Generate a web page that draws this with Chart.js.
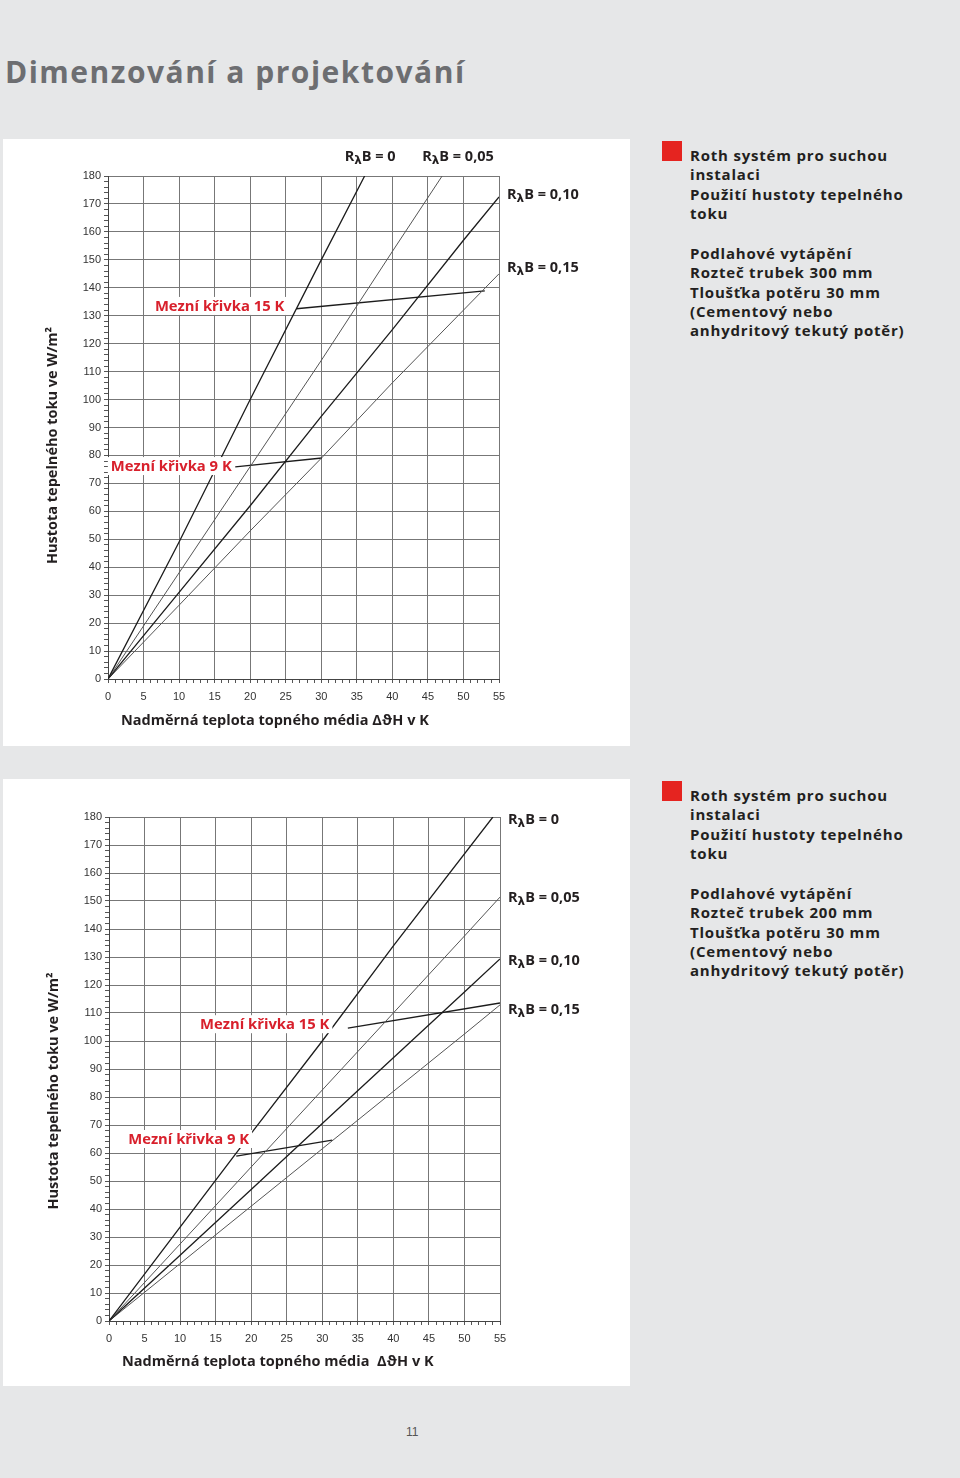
<!DOCTYPE html>
<html lang="cs">
<head>
<meta charset="utf-8">
<title>Dimenzování a projektování</title>
<script src="https://cdn.jsdelivr.net/npm/chart.js@4/dist/chart.umd.min.js"></script>
<style>
  body { margin: 0; width: 960px; height: 1478px; background: #e6e7e8; position: relative; overflow: hidden; font-family: "Open Sans", sans-serif; }
  h1 { position: absolute; left: 5px; top: 57px; margin: 0; font-size: 30px; line-height: 30px; font-weight: 700; color: #6d6e71; letter-spacing: 1.5px; }
  .panel { position: absolute; left: 3px; width: 627px; height: 607px; background: #fff; }
  .panel canvas { display: block; }
  .note { position: absolute; left: 690px; font-size: 15px; line-height: 19.3px; font-weight: 700; color: #231f20; white-space: nowrap; letter-spacing: 0.8px; }
  .note .gap { margin-top: 21px; }
  .square { position: absolute; left: 662px; width: 20px; height: 20px; background: #e52420; }
  .page { position: absolute; left: 406px; top: 1425px; font-size: 12px; color: #555; font-family: "Liberation Sans", Arial, sans-serif; }
</style>
</head>
<body>
<h1>Dimenzování a projektování</h1>

<div class="panel" style="top:139px"><canvas id="chartTop" width="627" height="607"></canvas></div>
<div class="square" style="top:141px"></div>
<div class="note" style="top:146px">
  <div>Roth systém pro suchou<br>instalaci<br>Použití hustoty tepelného<br>toku</div>
  <div class="gap">Podlahové vytápění<br>Rozteč trubek 300 mm<br>Tloušťka potěru 30 mm<br>(Cementový nebo<br>anhydritový tekutý potěr)</div>
</div>

<div class="panel" style="top:779px"><canvas id="chartBottom" width="627" height="607"></canvas></div>
<div class="square" style="top:781px"></div>
<div class="note" style="top:786px">
  <div>Roth systém pro suchou<br>instalaci<br>Použití hustoty tepelného<br>toku</div>
  <div class="gap">Podlahové vytápění<br>Rozteč trubek 200 mm<br>Tloušťka potěru 30 mm<br>(Cementový nebo<br>anhydritový tekutý potěr)</div>
</div>

<div class="page">11</div>

<script>
// values: x = ΔϑH in K, y = q in W/m²
const rbTags = ['0', '0,05', '0,10', '0,15'];

// pipe spacing 300 mm
const tempTopR0 = [0, 10, 20, 30, 36.1];
const fluxTopR0 = [0, 49, 100, 150, 180];
const tempTopR05 = [0, 10, 20, 30, 40, 47];
const fluxTopR05 = [0, 38, 76, 114, 153, 180];
const tempTopR10 = [0, 10, 20, 30, 40, 50, 55];
const fluxTopR10 = [0, 31, 62, 94, 125, 157, 172.5];
const tempTopR15 = [0, 10, 20, 30, 40, 50, 55];
const fluxTopR15 = [0, 26.4, 53, 79, 106, 132, 145];
const tempTopK15 = [26.5, 53];
const fluxTopK15 = [132.5, 138.9];
const tempTopK9 = [17.9, 30.1];
const fluxTopK9 = [75.9, 79.1];

// pipe spacing 200 mm
const tempBotR0 = [0, 10, 20, 30, 40, 54];
const fluxBotR0 = [0, 33.5, 67, 100, 134, 180];
const tempBotR05 = [0, 10, 20, 30, 40, 50, 55];
const fluxBotR05 = [0, 27.5, 55, 82.5, 110, 137.5, 151.4];
const tempBotR10 = [0, 10, 20, 30, 40, 50, 55];
const fluxBotR10 = [0, 23.5, 47, 70.5, 94, 117.5, 129.3];
const tempBotR15 = [0, 10, 20, 30, 40, 50, 55];
const fluxBotR15 = [0, 20.5, 41, 61.5, 82, 102.5, 112.9];
const tempBotK15 = [33.6, 55];
const fluxBotK15 = [104.6, 113.6];
const tempBotK9 = [17.9, 31.4];
const fluxBotK9 = [58.9, 64.6];

const pts = (xs, ys) => xs.map((v, i) => ({ x: v, y: ys[i] }));

const GRID = '#777';
const DARK = '#1c1c1c';
const LIGHT = '#555';
const TEXT = '#231f20';
const RED = '#d8202c';
const BOLD = '"Open Sans", "DejaVu Sans", sans-serif';

function line(xs, ys, color, width, tag, tagAt, tagDy) {
  return {
    data: pts(xs, ys), showLine: true, pointRadius: 0, borderColor: color,
    borderWidth: width, tension: 0, tag: tag, tagAt: tagAt, tagDy: tagDy || 0
  };
}

const overlay = {
  id: 'overlay',
  afterDatasetsDraw(chart, args, o) {
    const { ctx, chartArea: a } = chart;
    const x = chart.scales.x, y = chart.scales.y;
    ctx.save();
    ctx.textBaseline = 'middle';
    ctx.textAlign = 'left';

    // red labels of the limit curves, on a white patch
    ctx.font = 'bold 14.8px ' + BOLD;
    o.notes.forEach(n => {
      const px = x.getPixelForValue(n.x), py = y.getPixelForValue(n.y);
      const w = ctx.measureText(n.text).width;
      ctx.fillStyle = '#fff';
      ctx.fillRect(px - 3, py - 9, w + 6, 18);
      ctx.fillStyle = RED;
      ctx.fillText(n.text, px, py + 1);
    });

    // RλB tags at the line ends
    chart.data.datasets.forEach(ds => {
      if (!ds.tag) return;
      const end = ds.data[ds.data.length - 1];
      let px, py;
      if (ds.tagAt === 'top') {
        px = x.getPixelForValue(end.x) - 20;
        py = a.top - 19;
      } else {
        px = a.right + 8;
        py = y.getPixelForValue(end.y) + ds.tagDy;
      }
      ctx.fillStyle = TEXT;
      ctx.font = 'bold 14.5px ' + BOLD;
      ctx.fillText('R', px, py);
      px += ctx.measureText('R').width;
      ctx.font = 'bold 12px "DejaVu Sans", sans-serif';
      ctx.fillText('λ', px, py + 4);
      px += ctx.measureText('λ').width;
      ctx.font = 'bold 14.5px ' + BOLD;
      ctx.fillText('B = ' + ds.tag, px, py);
    });

    // axis titles
    ctx.fillStyle = TEXT;
    ctx.font = 'bold 14.5px ' + BOLD;
    ctx.fillText(o.xTitle, a.left + 13, a.bottom + o.xTitleDy);
    ctx.translate(a.left - 55, (a.top + a.bottom) / 2 + o.yTitleDy);
    ctx.rotate(-Math.PI / 2);
    ctx.textAlign = 'center';
    ctx.font = 'bold 14.5px ' + BOLD;
    ctx.fillText('Hustota tepelného toku ve W/m²', 0, 0);
    ctx.restore();
  }
};

function makeChart(id, datasets, pad, yWidth, xHeight, overlayOpts) {
  const tickFont = { family: '"Liberation Sans", Arial, sans-serif', size: 11 };
  return new Chart(document.getElementById(id), {
    type: 'scatter',
    data: { datasets: datasets },
    options: {
      responsive: false,
      animation: false,
      events: [],
      layout: { padding: pad },
      plugins: { legend: { display: false }, tooltip: { enabled: false }, overlay: overlayOpts },
      scales: {
        x: {
          type: 'linear', min: 0, max: 55,
          afterFit: s => { s.height = xHeight; },
          ticks: {
            stepSize: 1, autoSkip: false, maxRotation: 0, padding: 7,
            color: '#333', font: tickFont,
            callback: v => (v % 5 === 0 ? v : '')
          },
          grid: {
            color: c => (c.tick && c.tick.value % 5 === 0 ? GRID : 'rgba(0,0,0,0)'),
            tickColor: '#555', tickLength: 4, lineWidth: 1
          },
          border: { color: '#444', width: 1 }
        },
        y: {
          type: 'linear', min: 0, max: 180,
          afterFit: s => { s.width = yWidth; },
          ticks: {
            stepSize: 2, autoSkip: false, padding: 3,
            color: '#333', font: tickFont,
            callback: v => (v % 10 === 0 ? v : '')
          },
          grid: {
            color: c => (c.tick && c.tick.value % 10 === 0 ? GRID : 'rgba(0,0,0,0)'),
            tickColor: '#555', tickLength: 4, lineWidth: 1
          },
          border: { color: '#444', width: 1 }
        }
      }
    },
    plugins: [overlay]
  });
}

makeChart('chartTop', [
  line(tempTopR0, fluxTopR0, DARK, 1.3, rbTags[0], 'top'),
  line(tempTopR05, fluxTopR05, LIGHT, 1, rbTags[1], 'top'),
  line(tempTopR10, fluxTopR10, DARK, 1.3, rbTags[2], 'right', -2),
  line(tempTopR15, fluxTopR15, LIGHT, 1, rbTags[3], 'right', -6),
  line(tempTopK15, fluxTopK15, DARK, 1.4),
  line(tempTopK9, fluxTopK9, DARK, 1.4)
], { top: 37, right: 131, left: 0, bottom: 0 }, 105, 67, {
  notes: [
    { text: 'Mezní křivka 15 K', x: 6.6, y: 133.5 },
    { text: 'Mezní křivka 9 K', x: 0.4, y: 76.2 }
  ],
  xTitle: 'Nadměrná teplota topného média ΔϑH v K', xTitleDy: 42, yTitleDy: 18
});

makeChart('chartBottom', [
  line(tempBotR0, fluxBotR0, DARK, 1.3, rbTags[0], 'right', 3),
  line(tempBotR05, fluxBotR05, LIGHT, 1, rbTags[1], 'right', 1),
  line(tempBotR10, fluxBotR10, DARK, 1.3, rbTags[2], 'right', 2),
  line(tempBotR15, fluxBotR15, LIGHT, 1, rbTags[3], 'right', 5),
  line(tempBotK15, fluxBotK15, DARK, 1.4),
  line(tempBotK9, fluxBotK9, DARK, 1.4)
], { top: 38, right: 130, left: 0, bottom: 0 }, 106, 65, {
  notes: [
    { text: 'Mezní křivka 15 K', x: 12.8, y: 106 },
    { text: 'Mezní křivka 9 K', x: 2.7, y: 65 }
  ],
  xTitle: 'Nadměrná teplota topného média  ΔϑH v K', xTitleDy: 41, yTitleDy: 22
});
</script>
</body>
</html>
